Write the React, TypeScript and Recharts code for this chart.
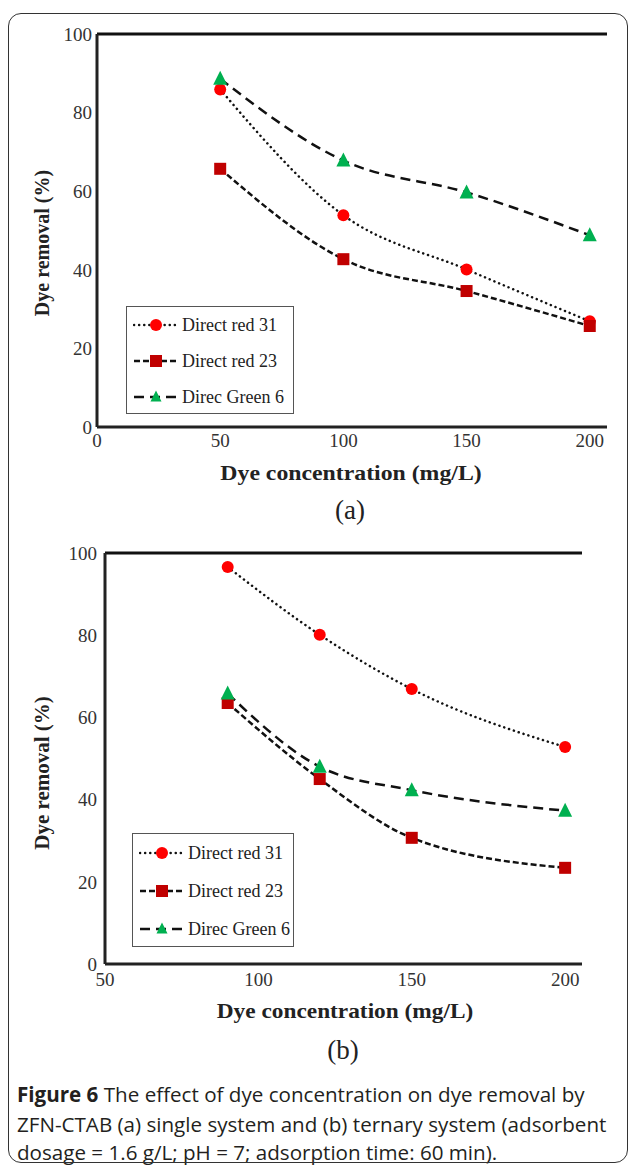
import React from "react";
import { LineChart, Line, XAxis, YAxis, ReferenceLine, Legend } from "recharts";

// series names as printed in the legends
const seriesNames = ["Direct red 31", "Direct red 23", "Direc Green 6"];

// (a) single system
const concA = [50, 100, 150, 200];
const red31A = [85.9, 53.9, 40.1, 26.9];
const red23A = [65.7, 42.7, 34.6, 25.7];
const green6A = [88.6, 67.8, 59.7, 48.8];

// (b) ternary system
const concB = [90, 120, 150, 200];
const red31B = [96.6, 80.1, 66.9, 52.8];
const red23B = [63.5, 45, 30.7, 23.4];
const green6B = [65.8, 48, 42.3, 37.3];

const yTicks = [0, 20, 40, 60, 80, 100];
const xTicksA = [0, 50, 100, 150, 200];
const xTicksB = [50, 100, 150, 200];

const captionLines = [
  "The effect of dye concentration on dye removal by",
  "ZFN-CTAB (a) single system and (b) ternary system (adsorbent",
  "dosage = 1.6 g/L; pH = 7; adsorption time: 60 min).",
];

const SERIF = '"Liberation Serif", "Times New Roman", serif';

type Shape = "circle" | "square" | "triangle";

const styles: { key: string; shape: Shape; fill: string; dash: string; cap: "round" | "butt" }[] = [
  { key: "r31", shape: "circle", fill: "#ff0000", dash: "0.1 5", cap: "round" },
  { key: "r23", shape: "square", fill: "#c00000", dash: "6 3", cap: "butt" },
  { key: "g6", shape: "triangle", fill: "#00b050", dash: "10 6", cap: "butt" },
];

function Marker({ cx, cy, shape, fill, size = 12 }: { cx: number; cy: number; shape: Shape; fill: string; size?: number }) {
  const h = size / 2;
  if (shape === "circle") return <circle cx={cx} cy={cy} r={h} fill={fill} />;
  if (shape === "square") return <rect x={cx - h} y={cy - h} width={size} height={size} fill={fill} />;
  return <polygon points={`${cx},${cy - h - 1} ${cx + h},${cy + h - 1} ${cx - h},${cy + h - 1}`} fill={fill} />;
}

function LegendBox({ rowH, sampleW }: { rowH: number; sampleW: number }) {
  return (
    <div
      style={{
        width: "100%",
        height: "100%",
        boxSizing: "border-box",
        border: "1px solid #555",
        background: "#fff",
        paddingLeft: 6,
        fontFamily: SERIF,
        fontSize: 18,
        color: "#222",
      }}
    >
      {styles.map((s, i) => (
        <div key={s.key} style={{ display: "flex", alignItems: "center", height: rowH }}>
          <svg width={sampleW} height={16} style={{ marginRight: 3 }}>
            <line x1={1} x2={sampleW - 1} y1={8} y2={8} stroke="#111" strokeWidth={2.5} strokeDasharray={s.dash} strokeLinecap={s.cap} />
            <Marker cx={sampleW / 2} cy={8} shape={s.shape} fill={s.fill} size={s.shape === "triangle" ? 11 : 12} />
          </svg>
          <span style={{ whiteSpace: "nowrap" }}>{seriesNames[i]}</span>
        </div>
      ))}
    </div>
  );
}

type PanelProps = {
  conc: number[];
  r31: number[];
  r23: number[];
  g6: number[];
  xDomain: [number, number];
  xTicks: number[];
  height: number;
  margin: { top: number; right: number; left: number; bottom: number };
  yTickMargin: number;
  xTickMargin: number;
  legend: { left: number; top: number; width: number; height: number; rowH: number; sampleW: number };
};

function Panel(p: PanelProps) {
  const rows = p.conc.map((c, i) => ({ conc: c, r31: p.r31[i], r23: p.r23[i], g6: p.g6[i] }));
  const tick = { fill: "#333", fontSize: 19, fontFamily: SERIF };
  const axisLine = { stroke: "#222", strokeWidth: 3 };
  return (
    <LineChart width={629} height={p.height} data={rows} margin={p.margin}>
      <XAxis
        type="number"
        dataKey="conc"
        domain={p.xDomain}
        ticks={p.xTicks}
        interval={0}
        allowDataOverflow
        tickLine={false}
        tickSize={0}
        tickMargin={p.xTickMargin}
        axisLine={axisLine}
        tick={tick}
        height={30}
      />
      <YAxis
        type="number"
        domain={[0, 100]}
        ticks={yTicks}
        interval={0}
        tickLine={false}
        tickSize={0}
        tickMargin={p.yTickMargin}
        axisLine={axisLine}
        tick={tick}
        width={50}
      />
      <ReferenceLine y={100} stroke="#111" strokeWidth={3} />
      <Legend
        layout="vertical"
        align="center"
        verticalAlign="middle"
        width={p.legend.width}
        height={p.legend.height}
        wrapperStyle={{ left: p.legend.left, top: p.legend.top, width: p.legend.width, height: p.legend.height }}
        content={() => <LegendBox rowH={p.legend.rowH} sampleW={p.legend.sampleW} />}
      />
      {styles.map((s, i) => (
        <Line
          key={s.key}
          dataKey={s.key}
          name={seriesNames[i]}
          type="monotone"
          stroke="#111"
          strokeWidth={2.5}
          strokeDasharray={s.dash}
          strokeLinecap={s.cap}
          isAnimationActive={false}
          activeDot={false}
          dot={(d: any) => (
            <Marker key={`${s.key}-${d.index}`} cx={d.cx} cy={d.cy} shape={s.shape} fill={s.fill} size={s.shape === "triangle" ? 14 : 12} />
          )}
        />
      ))}
    </LineChart>
  );
}

const abs = (left: number, top: number): React.CSSProperties => ({ position: "absolute", left, top });

function YTitle({ x, y, size }: { x: number; y: number; size: number }) {
  return (
    <div
      style={{
        ...abs(x, y),
        transform: "translate(-50%, -50%) rotate(-90deg)",
        fontFamily: SERIF,
        fontWeight: "bold",
        fontSize: size,
        color: "#222",
        whiteSpace: "nowrap",
        lineHeight: 1,
      }}
    >
      Dye removal (%)
    </div>
  );
}

function CenterText({ x, y, size, bold, stretch = 1, children }: { x: number; y: number; size: number; bold?: boolean; stretch?: number; children: React.ReactNode }) {
  return (
    <div
      style={{
        ...abs(x, y),
        transform: `translate(-50%, -50%) scaleX(${stretch})`,
        fontFamily: SERIF,
        fontWeight: bold ? "bold" : "normal",
        fontSize: size,
        color: "#222",
        whiteSpace: "nowrap",
        lineHeight: 1,
      }}
    >
      {children}
    </div>
  );
}

const captionTops = [1083, 1113, 1141];

export default function App() {
  return (
    <div style={{ position: "absolute", left: 0, top: 0, width: 629, height: 1166, background: "#fff", overflow: "hidden" }}>
      <div style={abs(0, 0)}>
        <Panel
          conc={concA}
          r31={red31A}
          r23={red23A}
          g6={green6A}
          xDomain={[0, 207]}
          xTicks={xTicksA}
          height={460}
          margin={{ top: 34, right: 22, left: 47, bottom: 3 }}
          yTickMargin={5}
          xTickMargin={7}
          legend={{ left: 126, top: 306, width: 168, height: 108, rowH: 36, sampleW: 46 }}
        />
      </div>
      <YTitle x={42} y={243} size={20} />
      <CenterText x={351} y={473} size={22} bold stretch={1.08}>
        Dye concentration (mg/L)
      </CenterText>
      <CenterText x={350} y={510} size={27}>
        (a)
      </CenterText>

      <div style={abs(0, 520)}>
        <Panel
          conc={concB}
          r31={red31B}
          r23={red23B}
          g6={green6B}
          xDomain={[50, 205.5]}
          xTicks={xTicksB}
          height={480}
          margin={{ top: 33, right: 47, left: 55, bottom: 6 }}
          yTickMargin={8}
          xTickMargin={9}
          legend={{ left: 132, top: 313, width: 162, height: 114, rowH: 38, sampleW: 46 }}
        />
      </div>
      <YTitle x={42} y={773} size={21} />
      <CenterText x={345} y={1011} size={22} bold stretch={1.06}>
        Dye concentration (mg/L)
      </CenterText>
      <CenterText x={343} y={1050} size={27}>
        (b)
      </CenterText>

      {captionLines.map((line, i) => (
        <div
          key={i}
          style={{
            ...abs(17, captionTops[i]),
            fontFamily: '"Open Sans", "Noto Sans", sans-serif',
            fontSize: 20.6,
            lineHeight: "22px",
            color: "#231f20",
            whiteSpace: "nowrap",
          }}
        >
          {i === 0 && <b>Figure 6 </b>}
          {line}
        </div>
      ))}

      <div
        style={{
          ...abs(8, 13),
          width: 620,
          height: 1150,
          boxSizing: "border-box",
          border: "1.5px solid #333",
          borderRadius: 13,
          pointerEvents: "none",
        }}
      />
    </div>
  );
}
